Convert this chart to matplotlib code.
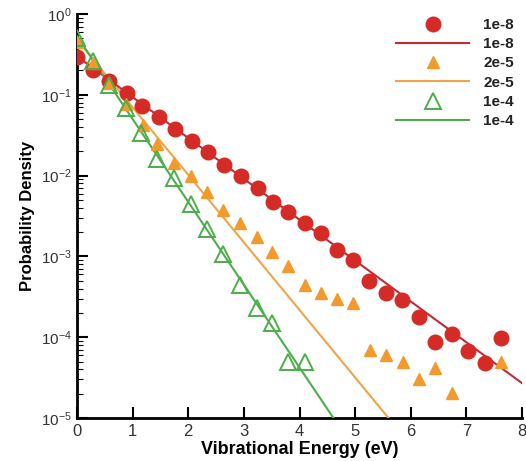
import numpy as np
import matplotlib
matplotlib.use("Agg")
import matplotlib.pyplot as plt
from matplotlib.ticker import LogLocator, NullFormatter, FixedLocator

# --- data -----------------------------------------------------------------
red_x = [0.0, 0.28, 0.58, 0.89, 1.17, 1.47, 1.77, 2.07, 2.36, 2.64, 2.94, 3.25,
         3.52, 3.80, 4.09, 4.38, 4.67, 4.96, 5.25, 5.56, 5.84, 6.14, 6.44, 6.74,
         7.03, 7.33, 7.62]
red_y = [0.29, 0.203, 0.150, 0.105, 0.0726, 0.0526, 0.0374, 0.0266, 0.0198,
         0.0136, 0.0098, 0.0070, 0.0047, 0.00357, 0.00257, 0.00193, 0.0012,
         0.00090, 0.00050, 0.000355, 0.000288, 0.000180, 8.8e-5, 1.09e-4,
         6.8e-5, 4.8e-5, 9.9e-5]

orange_x = [0.0, 0.28, 0.58, 0.88, 1.19, 1.44, 1.75, 2.05, 2.34, 2.63, 2.93, 3.23,
            3.51, 3.79, 4.09, 4.38, 4.68, 4.97, 5.26, 5.56, 5.86, 6.15, 6.44,
            6.74, 7.62]
orange_y = [0.45, 0.25, 0.14, 0.078, 0.0423, 0.0246, 0.0144, 0.0098, 0.0063,
            0.00375, 0.00257, 0.00175, 0.00112, 0.00075, 0.00044, 0.000356,
            0.000297, 0.000263, 6.9e-5, 6.0e-5, 5.0e-5, 3.0e-5, 4.1e-5, 2.06e-5,
            5.0e-5]

green_x = [0.0, 0.28, 0.58, 0.88, 1.15, 1.44, 1.75, 2.05, 2.33, 2.63, 2.93, 3.23,
           3.51, 3.79, 4.09]
green_y = [0.50, 0.26, 0.132, 0.068, 0.0334, 0.0159, 0.0093, 0.0045, 0.00216,
           0.00107, 0.00044, 0.000228, 0.000149, 5.0e-5, 5.0e-5]

red_line_x = [0.0, 8.0]
red_line_y = [0.30, 2.7e-5]
orange_line_x = [0.0, 5.6]
orange_line_y = [0.48, 1.0e-5]
green_line_x = [0.0, 4.61]
green_line_y = [0.53, 1.0e-5]

labels = ["1e-8", "1e-8", "2e-5", "2e-5", "1e-4", "1e-4"]
x_ticks = [0, 1, 2, 3, 4, 5, 6, 7, 8]
y_ticks = [1e-5, 1e-4, 1e-3, 1e-2, 1e-1, 1e0]
y_ticklabels = [r"$10^{-5}$", r"$10^{-4}$", r"$10^{-3}$", r"$10^{-2}$",
                r"$10^{-1}$", r"$10^{0}$"]

# --- styling --------------------------------------------------------------
plt.rcParams['font.family'] = ['Liberation Sans', 'DejaVu Sans']
plt.rcParams['mathtext.fontset'] = 'custom'
plt.rcParams['mathtext.rm'] = 'Liberation Sans'
plt.rcParams['mathtext.it'] = 'Liberation Sans'

RED = "#d52b27"
RED_LINE = "#c42a33"
ORANGE = "#f29a2c"
ORANGE_LINE = "#f0a448"
GREEN = "#4cae4a"

fig = plt.figure(figsize=(5.26, 4.61), dpi=100)
ax = fig.add_axes([77/526, 1-418/461, (522-77)/526, (418-14)/461])

h1, = ax.plot(red_x, red_y, 'o', ls='none', color=RED, ms=10.5, mec=RED, zorder=4)
h2, = ax.plot(red_line_x, red_line_y, '-', color=RED_LINE, lw=1.5, zorder=3)
h3, = ax.plot(orange_x, orange_y, '^', ls='none', color=ORANGE, ms=8, mec=ORANGE, zorder=4)
h4, = ax.plot(orange_line_x, orange_line_y, '-', color=ORANGE_LINE, lw=1.5, zorder=3)
h5, = ax.plot(green_x, green_y, '^', ls='none', mfc='none', mec=GREEN, mew=1.4, ms=11, zorder=5)
h6, = ax.plot(green_line_x, green_line_y, '-', color=GREEN, lw=1.5, zorder=3)

ax.set_yscale('log')
ax.set_xlim(0, 8)
ax.set_ylim(1e-5, 1)

ax.set_xticks(x_ticks)
ax.set_xticklabels([str(t) for t in x_ticks], fontsize=12, color="#333333")
ax.yaxis.set_major_locator(FixedLocator(y_ticks))
ax.set_yticklabels(y_ticklabels, fontsize=11, color="#333333")
ax.yaxis.set_minor_locator(LogLocator(base=10, subs=np.arange(2, 10), numticks=20))
ax.yaxis.set_minor_formatter(NullFormatter())

ax.tick_params(axis='both', which='major', direction='in', length=8, width=1.5)
ax.tick_params(axis='y', which='minor', direction='in', length=4, width=0.8)
ax.tick_params(axis='x', pad=4)
ax.tick_params(axis='y', pad=4)

for s in ['top', 'right']:
    ax.spines[s].set_visible(False)
for s in ['left', 'bottom']:
    ax.spines[s].set_linewidth(2)

ax.set_xlabel("Vibrational Energy (eV)", fontsize=13, fontweight='bold', labelpad=2)
ax.set_ylabel("Probability Density", fontsize=12, fontweight='bold', labelpad=4)

leg = ax.legend([h1, h2, h3, h4, h5, h6], labels, loc='upper right',
                bbox_to_anchor=(0.995, 1.005), frameon=False,
                prop={'weight': 'bold', 'size': 11}, handlelength=4.8,
                labelspacing=0.34, handletextpad=0.9, borderaxespad=0.0)
for t in leg.get_texts():
    t.set_color("#222222")

fig.savefig("out.png", dpi=100)
